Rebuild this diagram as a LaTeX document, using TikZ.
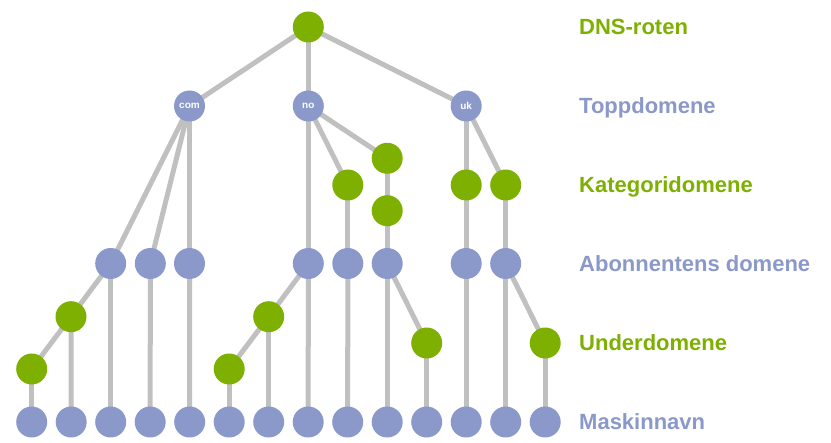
\documentclass[tikz,border=0pt]{standalone}
\usepackage{fontspec}
\setmainfont{Liberation Sans}
\usetikzlibrary{backgrounds}
\definecolor{dgreen}{RGB}{125,176,0}
\definecolor{dblue}{RGB}{138,152,202}
\definecolor{dgray}{RGB}{192,192,192}
\tikzset{
  gnode/.style={circle,fill=dgreen,minimum size=31pt,inner sep=0pt},
  bnode/.style={circle,fill=dblue,minimum size=31pt,inner sep=0pt,text=white,font=\fontsize{10}{10}\selectfont\bfseries},
  link/.style={draw=dgray,line width=5pt},
  lbl/.style={anchor=base west,inner sep=0pt,font=\fontsize{22}{24}\selectfont\bfseries}
}
\begin{document}
\begin{tikzpicture}[x=1pt,y=-1pt]
\useasboundingbox (0,0) rectangle (831,443);
% root and top level
\node[gnode] (root) at (308.3,27) {};
\node[bnode] (com) at (189.5,106) {com};
\node[bnode] (no) at (308.3,106) {no};
\node[bnode] (uk) at (466.2,106) {uk};
% category
\node[gnode] (k1) at (347.8,185) {};
\node[gnode] (k2) at (387.2,158.3) {};
\node[gnode] (k3) at (387.2,210.7) {};
\node[gnode] (k4) at (466.2,185) {};
\node[gnode] (k5) at (505.7,185) {};
% subscriber domains
\foreach \n/\x in {a1/110.7,a2/150.3,a3/189.5,a4/308.3,a5/347.8,a6/387.2,a7/466.2,a8/505.7}
  \node[bnode] (\n) at (\x,263.5) {};
% subdomains
\node[gnode] (u1) at (71,316.7) {};
\node[gnode] (u2) at (31.7,369) {};
\node[gnode] (u3) at (268.7,316.7) {};
\node[gnode] (u4) at (229.2,369) {};
\node[gnode] (u5) at (426.7,343) {};
\node[gnode] (u6) at (545.2,343) {};
% hosts
\foreach \i in {1,...,14}
  \node[bnode] (b\i) at ({31.7+(\i-1)*39.5},422) {};
% edges
\begin{scope}[on background layer]
\foreach \p/\c in {root/com,root/no,root/uk,com/a1,com/a2,com/a3,no/a4,no/k1,no/k2,
  k2/k3,k3/a6,k1/a5,uk/k4,uk/k5,k4/a7,k5/a8,
  a1/u1,u1/u2,u2/b1,u1/b2,a1/b3,a2/b4,a3/b5,
  a4/u3,u3/u4,u4/b6,u3/b7,a4/b8,
  a5/b9,a6/b10,a6/u5,u5/b11,a7/b12,a8/b13,a8/u6,u6/b14}
  \draw[link] (\p.center) -- (\c.center);
\end{scope}
% level labels
\node[lbl,text=dgreen] (l1) at (579,34.8) {DNS-roten};
\node[lbl,text=dblue] (l2) at (579,113.8) {Toppdomene};
\node[lbl,text=dgreen] (l3) at (579,192.8) {Kategoridomene};
\node[lbl,text=dblue] (l4) at (579,271.8) {Abonnentens domene};
\node[lbl,text=dgreen] (l5) at (579,350.8) {Underdomene};
\node[lbl,text=dblue] (l6) at (579,429.8) {Maskinnavn};
\end{tikzpicture}
\end{document}
